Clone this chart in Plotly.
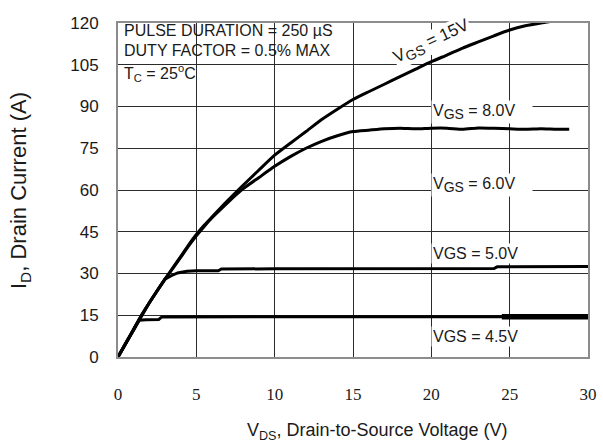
import plotly.graph_objects as go

# ---- data ----
vgs15_vds = [0, 0.5, 1, 1.5, 2, 2.5, 3, 3.5, 4, 4.5, 5, 5.5, 6, 7, 8, 9, 10, 11, 12, 13,
             14, 15, 16, 17, 18, 19, 20, 21, 22, 23, 24, 25, 26, 27, 27.6]
vgs15_id = [0, 5, 10, 15, 19.5, 23.8, 28, 32, 36.1, 40.2, 44, 47.3, 50.3, 56.2, 61.8,
            67.2, 72.5, 76.8, 81, 85.3, 89, 92.5, 95.3, 98, 100.7, 103.4, 106.1, 108.5,
            111, 113.2, 115.4, 117.5, 119, 120, 120.5]

vgs8_vds = [0, 0.5, 1, 1.5, 2, 2.5, 3, 3.5, 4, 4.5, 5, 5.5, 6, 7, 8, 9, 10, 11, 12, 13,
            14, 15, 16, 17, 18, 19, 20, 21, 22, 23, 24, 25, 26, 27, 28, 28.8]
vgs8_id = [0, 5, 10, 15, 19.5, 23.8, 28, 31.8, 35.8, 39.8, 43.5, 46.9, 50, 55.5, 60.5,
           64.5, 68.5, 72, 75, 77.5, 79.5, 81, 81.5, 82, 82.2, 82, 82.2, 82.2, 81.8, 82.3,
           82.2, 82, 81.8, 82, 81.8, 81.8]

vgs5_vds = [0, 0.5, 1, 1.5, 2, 2.5, 3, 3.4, 3.8, 4.4, 5, 6.4, 6.6, 10, 15, 20, 24, 24.2, 30]
vgs5_id = [0, 5, 10, 15, 19.5, 23.8, 28, 29.2, 30.2, 30.8, 31, 31, 31.6, 31.7, 31.8, 31.8,
           31.8, 32.4, 32.5]

vgs45_vds = [0, 0.5, 1, 1.35, 1.8, 2.6, 2.8, 10, 20, 30]
vgs45_id = [0, 5, 9.5, 13.2, 13.4, 13.5, 14.4, 14.4, 14.4, 14.5]
# heavier (overdrawn) tail of the 4.5 V trace
vgs45_tail_vds = [24.5, 30]
vgs45_tail_id = [14.5, 14.5]

x_ticks = [0, 5, 10, 15, 20, 25, 30]
y_ticks = [0, 15, 30, 45, 60, 75, 90, 105, 120]

SANS = "Arial, Liberation Sans, sans-serif"
SERIF = "Times New Roman, Liberation Serif, serif"
INK = "#1a1a1a"

W, H = 603, 443
ML, MR, MT, MB = 118, 15, 23, 86
PW, PH = W - ML - MR, H - MT - MB

fig = go.Figure()
series = [
    (vgs15_vds, vgs15_id, "spline", 3),
    (vgs8_vds, vgs8_id, "spline", 3),
    (vgs5_vds, vgs5_id, "linear", 3),
    (vgs45_vds, vgs45_id, "linear", 3),
    (vgs45_tail_vds, vgs45_tail_id, "linear", 5.5),
]
for xs, ys, shp, lw in series:
    fig.add_trace(go.Scatter(x=xs, y=ys, mode="lines",
                             line=dict(color="black", width=lw, shape=shp,
                                       smoothing=0.5 if shp == "spline" else None),
                             showlegend=False, hoverinfo="skip"))

fig.update_layout(
    width=W, height=H,
    margin=dict(l=ML, r=MR, t=MT, b=MB, autoexpand=False),
    paper_bgcolor="white", plot_bgcolor="white",
    font=dict(family=SANS, color=INK),
    showlegend=False,
)

fig.update_xaxes(
    range=[0, 30], tickvals=x_ticks, ticks="", automargin=False,
    tickfont=dict(family=SERIF, size=17, color=INK),
    ticklabelstandoff=21,
    showgrid=True, gridcolor="#2b2b2b", gridwidth=1.3,
    zeroline=False,
    showline=True, mirror=True, linecolor="#8c8c8c", linewidth=2,
)
fig.update_yaxes(
    range=[0, 120], tickvals=y_ticks, ticks="", automargin=False,
    tickfont=dict(family=SANS, size=17, color=INK),
    ticklabelstandoff=14,
    showgrid=True, gridcolor="#2b2b2b", gridwidth=1.3,
    zeroline=False,
    showline=True, mirror=True, linecolor="#8c8c8c", linewidth=2,
)


def py(p):
    """pixel row -> paper y"""
    return (H - MB - p) / PH


def px(p):
    """pixel column -> paper x"""
    return (p - ML) / PW


# white box behind the test-condition text (covers gridlines only)
fig.add_shape(type="rect", xref="paper", yref="paper",
              x0=0, x1=px(343), y0=py(91), y1=1,
              fillcolor="white", line=dict(width=0), layer="between")

note_font = dict(family=SANS, size=16, color=INK)
SUB = "<sub><span style='font-size:14px'>{}</span></sub>"

fig.add_annotation(x=px(122), y=py(31), xref="paper", yref="paper", xanchor="left",
                   yanchor="middle", text="PULSE DURATION = 250 µS", showarrow=False,
                   font=note_font)
fig.add_annotation(x=px(122), y=py(50), xref="paper", yref="paper", xanchor="left",
                   yanchor="middle", text="DUTY FACTOR = 0.5% MAX", showarrow=False,
                   font=note_font)
fig.add_annotation(x=px(122), y=py(73), xref="paper", yref="paper", xanchor="left",
                   yanchor="middle", text="T<sub>C</sub> = 25<sup>o</sup>C", showarrow=False,
                   font=note_font)

fig.add_annotation(x=px(432), y=py(42), xref="paper", yref="paper",
                   xanchor="center", yanchor="middle",
                   text="V" + SUB.format("GS") + " = 15V",
                   textangle=-25, showarrow=False, font=dict(family=SANS, size=17, color=INK),
                   bgcolor="white", borderpad=0)

labels = [
    ("V" + SUB.format("GS") + " = 8.0V", 112),
    ("V" + SUB.format("GS") + " = 6.0V", 185),
    ("VGS = 5.0V", 253),
    ("VGS = 4.5V", 336),
]
for txt, row in labels:
    fig.add_annotation(x=px(431), y=py(row), xref="paper", yref="paper", xanchor="left",
                       yanchor="middle", text=txt, showarrow=False, font=note_font,
                       align="left", width=98, bgcolor="white", borderpad=1)

# axis titles
fig.add_annotation(x=px(377), y=py(431), xref="paper", yref="paper", yanchor="middle",
                   text="V<sub>DS</sub>, Drain-to-Source Voltage (V)", showarrow=False,
                   font=dict(family=SANS, size=18, color=INK))
fig.add_annotation(x=px(20), y=py(191), xref="paper", yref="paper", xanchor="center",
                   yanchor="middle", textangle=-90,
                   text="I<sub>D</sub>, Drain Current (A)", showarrow=False,
                   font=dict(family=SANS, size=22, color=INK))

fig.write_html("out.html", config={"displayModeBar": False},
               post_script="document.body.style.margin='0px';")
